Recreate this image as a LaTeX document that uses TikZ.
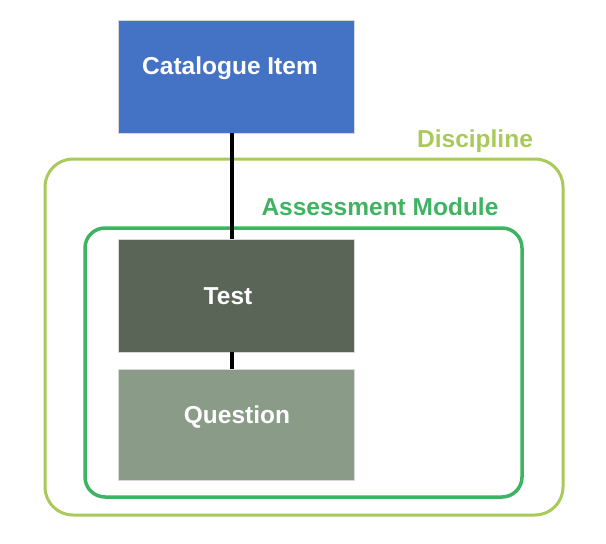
\documentclass[tikz,border=0pt]{standalone}
\usepackage{fontspec}
\setmainfont{Liberation Sans}
\definecolor{catblue}{HTML}{4472C4}
\definecolor{testgreen}{HTML}{5A6557}
\definecolor{qgreen}{HTML}{8A9B88}
\definecolor{disccol}{HTML}{A9CA58}
\definecolor{assesscol}{HTML}{3EB362}
\begin{document}
\begin{tikzpicture}[x=1pt,y=-1pt,
  box/.style={rectangle, draw=black!15, line width=0.8pt, minimum width=236pt, inner sep=0pt, outer sep=0pt},
  boxtext/.style={text=white, font=\fontsize{24.5}{29}\selectfont\bfseries, inner sep=0pt},
  container/.style={rectangle, fill=none, inner sep=0pt, outer sep=0pt},
  clabel/.style={font=\fontsize{24.5}{29}\selectfont\bfseries, inner sep=0pt},
  conn/.style={draw=black, line width=3.5pt}]
\useasboundingbox (0,0) rectangle (606,544);
% containers
\node[container, draw=disccol, line width=3pt, rounded corners=28pt, minimum width=518pt, minimum height=356pt] (disc) at (304,337) {};
\node[container, draw=assesscol, line width=3.5pt, rounded corners=20pt, minimum width=437pt, minimum height=269pt] (assess) at (303.5,362.5) {};
\node[clabel, text=disccol] (disclabel) at (475,141) {Discipline};
\node[clabel, text=assesscol] (assesslabel) at (380,207) {Assessment Module};
% boxes
\node[box, fill=catblue, minimum height=113pt] (cat) at (236,76.5) {};
\node[box, fill=testgreen, minimum height=113pt] (test) at (236,295.5) {};
\node[box, fill=qgreen, minimum height=111pt] (quest) at (236,424.5) {};
% connectors
\draw[conn] ([xshift=-4pt]cat.south) -- ([xshift=-4pt]test.north);
\draw[conn] ([xshift=-4pt]test.south) -- ([xshift=-4pt]quest.north);
% texts
\node[boxtext] (cattext) at (230,68) {Catalogue Item};
\node[boxtext] (testtext) at (228,296) {Test};
\node[boxtext] (questtext) at (237,417) {Question};
\end{tikzpicture}
\end{document}
